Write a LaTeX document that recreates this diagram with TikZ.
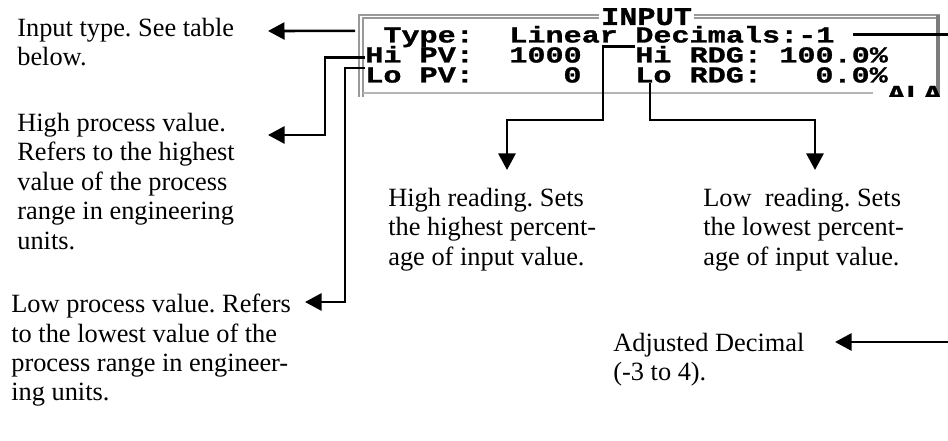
\documentclass[tikz,border=0pt]{standalone}
\usepackage{fontspec}
\setmainfont{Liberation Serif}
\newfontfamily\lcdfont[FakeStretch=1.32,FakeBold=1.2]{Liberation Mono}
\usetikzlibrary{arrows.meta,positioning,calc}
\definecolor{lcdlight}{HTML}{B4B4B4}
\definecolor{lcdmid}{HTML}{999999}
\definecolor{lcddark}{HTML}{7C7C7C}
\frenchspacing

\begin{document}
\begin{tikzpicture}[>={Triangle[length=0.33cm,width=0.34cm]},
  lead/.style={line width=0.052cm},
  note/.style={anchor=north west,inner sep=0pt,align=left,font=\fontsize{15}{16.7}\selectfont},
  lcd/.style={anchor=base west,inner sep=0pt,font=\lcdfont\bfseries\fontsize{13}{13}\selectfont}]
  \useasboundingbox (0,0) rectangle (18.96,8.8);
  \begin{scope}
    \clip (7.0,6.86) rectangle (18.96,8.8);
    \draw[lcdmid,line width=0.04cm] (7.17,6.8) -- (7.17,8.5) -- (18.8,8.5);
    \draw[lcdmid,line width=0.04cm] (7.25,6.8) -- (7.25,8.43) -- (18.72,8.43);
    \draw[lcddark,line width=0.08cm] (18.76,8.5) -- (18.76,6.8);
    \draw[lcdlight,line width=0.05cm] (7.25,6.94) -- (17.46,6.94);
    \node[lcd,fill=white,inner xsep=0.04cm,font=\lcdfont\bfseries\fontsize{14.5}{14.5}\selectfont,xscale=0.9] (ttl) at (11.98,8.3) {INPUT};
    \node[lcd] (typelbl) at (7.66,7.95) {Type:};
    \node[lcd] (typeval) at (10.18,7.95) {Linear};
    \node[lcd] (decim) at (12.7,7.95) {Decimals:-1};
    \node[lcd] (hipvlbl) at (7.3,7.55) {Hi~PV:};
    \node[lcd] (hipvnum) at (10.18,7.55) {1000};
    \node[lcd] (hirdg) at (12.7,7.55) {Hi~RDG:};
    \node[lcd] (hirdgnum) at (15.58,7.55) {100.0\%};
    \node[lcd] (lopvlbl) at (7.3,7.15) {Lo~PV:};
    \node[lcd] (lopvnum) at (11.26,7.15) {0};
    \node[lcd] (lordg) at (12.7,7.15) {Lo~RDG:};
    \node[lcd] (lordgnum) at (16.3,7.15) {0.0\%};
    \node[lcd] (alarm) at (17.74,6.78) {ALA};
  \end{scope}
  \node[note] (intype) at (0.34,8.44) {Input type. See table\\below.};
  \node[note] (hipv) at (0.34,6.54) {High process value.\\Refers to the highest\\value of the process\\range in engineering\\units.};
  \node[note] (lopv) at (0.22,2.92) {Low process value. Refers\\to the lowest value of the\\process range in engineer-\\ing units.};
  \node[note] (hird) at (7.76,5.04) {High reading. Sets\\the highest percent-\\age of input value.};
  \node[note] (lord) at (14.06,5.04) {Low\ \ reading. Sets\\the lowest percent-\\age of input value.};
  \node[note] (adjdec) at (12.26,2.14) {Adjusted Decimal\\(-3 to 4).};
  \coordinate (intypetip) at (5.36,8.18);
  \coordinate (hipvtip) at (5.36,6.1);
  \coordinate (lopvtip) at (6.1,2.76);
  \coordinate (hirdgbend) at (12.06,6.4);
  \coordinate (hirdtip) at (10.14,5.4);
  \coordinate (lordbend) at (16.3,6.4);
  \coordinate (lordtip) at (16.3,5.4);
  \coordinate (adjedge) at (18.96,1.96);
  \coordinate (adjtip) at (16.7,1.96);
  \draw[lead,->] ([xshift=-0.56cm,yshift=0.13cm]typelbl.west) -- (intypetip);
  \draw[lead,->] ([yshift=-0.07cm]hipvlbl.west) -- ++(-0.8,0) |- (hipvtip);
  \draw[lead,->] ([yshift=-0.02cm]lopvlbl.north west) -- ++(-0.4,0) |- (lopvtip);
  \draw[lead,->] ([yshift=-0.02cm]hirdg.north west) -| (hirdgbend) -| (hirdtip);
  \draw[lead,->] ([xshift=0.3cm]lordg.south west) |- (lordbend) -- (lordtip);
  \draw[lead] ([xshift=0.36cm]decim.east) -- ++(1.94,0);
  \draw[lead,->] (adjedge) -- (adjtip);
\end{tikzpicture}
\end{document}
